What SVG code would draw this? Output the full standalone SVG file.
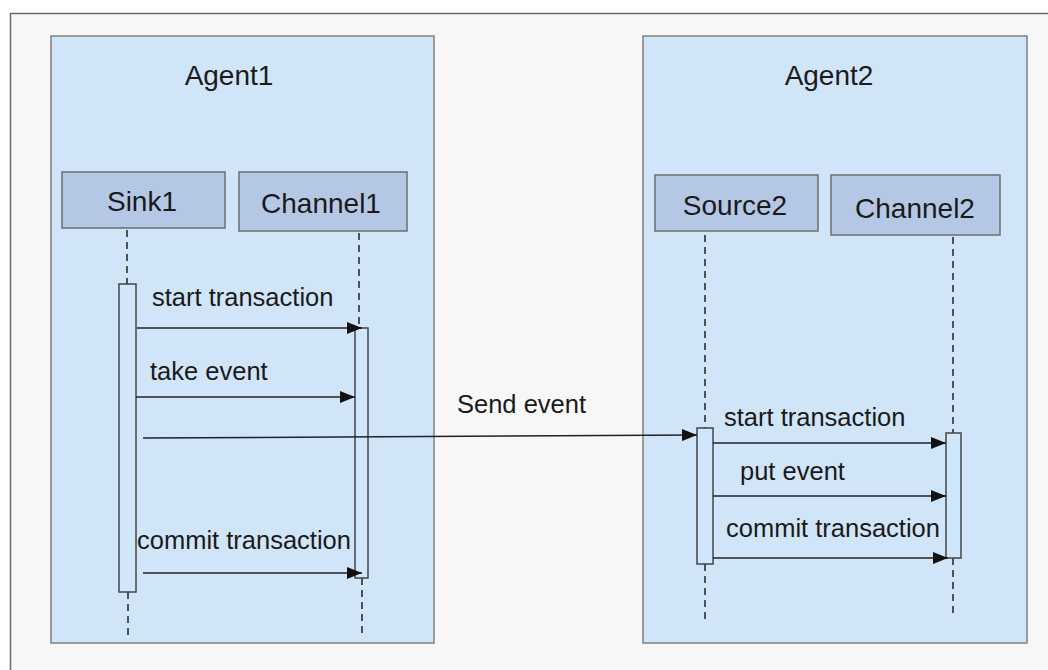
<svg xmlns="http://www.w3.org/2000/svg" width="1048" height="670" viewBox="0 0 1048 670">
<style>
text{font-family:"Liberation Sans",Arial,sans-serif;fill:#1a1a1a}
.agent{fill:#d1e5f8;stroke:#808080;stroke-width:1.5}
.title{font-size:28px;text-anchor:middle}
.node{fill:#b4c8e5;stroke:#6e6e6e;stroke-width:1.5}
.nl{font-size:28px;text-anchor:middle}
.life{stroke:#222;stroke-width:1.5;stroke-dasharray:7,5;fill:none}
.act{fill:#cfe6fb;stroke:#444;stroke-width:1.5}
.msg{stroke:#222;stroke-width:1.5;fill:none;marker-end:url(#ah)}
.ml{font-size:25.5px}
</style>
<defs>
<marker id="ah" markerUnits="userSpaceOnUse" markerWidth="16" markerHeight="12" refX="15" refY="6" orient="auto">
<path d="M0,0 L15,6 L0,12 z" fill="#111"/>
</marker>
</defs>
<rect x="0" y="0" width="1048" height="670" fill="#ffffff"/>
<rect x="10.5" y="13.5" width="1100" height="700" fill="#f7f7f7" stroke="#6a6a6a" stroke-width="1.5"/>

<g id="agent1">
<rect class="agent" x="51" y="36" width="383" height="607"/>
<text class="title" x="229" y="85">Agent1</text>
</g>
<g id="agent2">
<rect class="agent" x="643" y="36" width="384" height="607"/>
<text class="title" x="829" y="85">Agent2</text>
</g>

<g id="sink1">
<rect class="node" x="62" y="172" width="163" height="56"/>
<text class="nl" x="142" y="211">Sink1</text>
<path class="life" d="M127,230 V284 M128,592 V638"/>
<rect class="act" x="119" y="284" width="17" height="308"/>
</g>
<g id="channel1">
<rect class="node" x="239" y="172" width="168" height="59"/>
<text class="nl" x="321" y="213">Channel1</text>
<path class="life" d="M359,233 V328 M362,578 V635"/>
<rect class="act" x="355" y="328" width="13" height="250"/>
</g>
<g id="source2">
<rect class="node" x="655" y="175" width="163" height="56"/>
<text class="nl" x="735" y="215">Source2</text>
<path class="life" d="M705,235 V428 M705,564 V620"/>
<rect class="act" x="697" y="428" width="16" height="136"/>
</g>
<g id="channel2">
<rect class="node" x="831" y="175" width="169" height="60"/>
<text class="nl" x="915" y="218">Channel2</text>
<path class="life" d="M953,237 V433 M953,558 V618"/>
<rect class="act" x="946" y="433" width="15" height="125"/>
</g>

<g id="connectors">
<line class="msg" x1="137" y1="328" x2="362" y2="328"/>
<text class="ml" x="152" y="306">start transaction</text>
<line class="msg" x1="136" y1="397" x2="355" y2="397"/>
<text class="ml" x="150" y="380">take event</text>
<line class="msg" x1="143" y1="438" x2="697" y2="435"/>
<text class="ml" x="457" y="413">Send event</text>
<line class="msg" x1="143" y1="573" x2="362" y2="573"/>
<text class="ml" x="137" y="549">commit transaction</text>
<line class="msg" x1="713" y1="443" x2="946" y2="443"/>
<text class="ml" x="724" y="426">start transaction</text>
<line class="msg" x1="713" y1="496" x2="946" y2="496"/>
<text class="ml" x="740" y="480">put event</text>
<line class="msg" x1="713" y1="558" x2="948" y2="558"/>
<text class="ml" x="726" y="537">commit transaction</text>
</g>
</svg>
